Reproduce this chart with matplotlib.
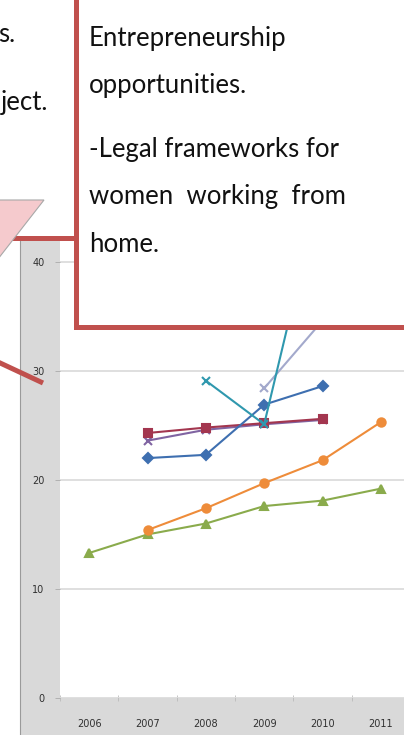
import matplotlib
matplotlib.use('Agg')
import matplotlib.pyplot as plt
from matplotlib.patches import Rectangle, Polygon
from matplotlib.lines import Line2D
import numpy as np

nan = np.nan

# chart data (percent), one value per year, nan where the series has no point
years = ['2006', '2007', '2008', '2009', '2010', '2011']
green = [13.3, 15.0, 16.0, 17.6, 18.1, 19.2]
orange = [nan, 15.4, 17.4, 19.7, 21.8, 25.3]
blue = [nan, 22.0, 22.3, 26.9, 28.6, nan]
purple = [nan, 23.6, 24.6, 25.1, 25.5, nan]
maroon = [nan, 24.3, 24.8, 25.2, 25.6, nan]
teal = [nan, nan, 29.1, 25.1, 47.5, nan]
lavender = [nan, nan, nan, 28.4, 34.6, nan]
yticks = [0, 10, 20, 30, 40]

left_lines = ['s.', 'ject.']
right_lines = ['Entrepreneurship', 'opportunities.', '-Legal frameworks for',
               'women  working  from', 'home.']

W, H = 404, 735
RED = '#c0504d'


def fx(x):
    return x / W


def fy(y):
    return 1 - y / H


fig = plt.figure(figsize=(W / 100, H / 100), dpi=100)
fig.patch.set_facecolor('white')

# grey frame of the chart (value axis strip and category axis strip)
fig.add_artist(Rectangle((fx(20), fy(735)), fx(40), 497 / H, transform=fig.transFigure,
                         facecolor='#d9d9d9', edgecolor='none', zorder=-1))
fig.add_artist(Rectangle((fx(20), fy(735)), fx(400), 37 / H, transform=fig.transFigure,
                         facecolor='#d9d9d9', edgecolor='none', zorder=-1))
fig.add_artist(Line2D([fx(20), fx(20)], [fy(238), fy(735)], transform=fig.transFigure,
                      color='#9a9a9a', lw=0.8, zorder=-1))

ax = fig.add_axes([fx(60), fy(698), fx(350), 458 / H])
ax.set_facecolor('white')
x = np.arange(len(years))

series = [
    (green, '#8aab4c', '^'),
    (orange, '#ee8c3a', 'o'),
    (purple, '#8064a2', 'x'),
    (maroon, '#a3364f', 's'),
    (blue, '#3e6fb0', 'D'),
    (lavender, '#a3a9cc', 'x'),
    (teal, '#2f98ae', 'x'),
]
for vals, col, mk in series:
    ax.plot(x, vals, color=col, lw=1.5, marker=mk, markersize=6 if mk != 'D' else 5,
            markeredgewidth=1.5, zorder=3)

ax.set_xlim(-0.5, 5.5)
ax.set_ylim(0, 42.0)
ax.set_yticks(yticks)
ax.set_yticklabels([str(t) for t in yticks])
ax.set_xticks(x)
ax.set_xticklabels(years)
ax.set_xticks(np.arange(-0.5, 6, 1), minor=True)
ax.grid(axis='y', color='#dcdcdc', lw=1.3)
ax.set_axisbelow(True)
for s in ax.spines.values():
    s.set_visible(False)
ax.tick_params(axis='y', length=3.6, width=0.6, color='#aaaaaa', pad=7.5,
               labelsize=7, labelcolor='#303030')
ax.tick_params(axis='x', which='major', length=0, pad=15, labelsize=7, labelcolor='#303030')
ax.tick_params(axis='x', which='minor', length=4, width=0.6, color='#bbbbbb', direction='inout')

# text boxes laid over the chart
fig.add_artist(Rectangle((fx(-10), fy(238)), fx(85.5), 260 / H, transform=fig.transFigure,
                         facecolor='white', edgecolor=RED, lw=3.6, zorder=5))
fig.add_artist(Rectangle((fx(75.5), fy(327)), fx(340), 340 / H, transform=fig.transFigure,
                         facecolor='white', edgecolor=RED, lw=3.6, zorder=5))

# pink callout pointer
fig.add_artist(Polygon([(fx(-2), fy(200)), (fx(44), fy(200)), (fx(-2), fy(259))],
                       closed=True, transform=fig.transFigure, facecolor='#f5cacd',
                       edgecolor='#a8a8a8', lw=0.8, zorder=6))
fig.add_artist(Line2D([fx(-2), fx(43)], [fy(362), fy(383)], transform=fig.transFigure,
                      color=RED, lw=3.6, solid_capstyle='butt', zorder=6))

font = dict(family=['Lato', 'DejaVu Sans'], size=18.5, color='#111111', zorder=7)
for txt, xr, yb in zip(left_lines, [15, 48], [42, 110]):
    fig.text(fx(xr), fy(yb), txt, ha='right', va='baseline', **font)
for txt, yb in zip(right_lines, [46, 93, 157, 204, 252]):
    fig.text(fx(89), fy(yb), txt, ha='left', va='baseline', **font)

fig.savefig('out.png', dpi=100)
